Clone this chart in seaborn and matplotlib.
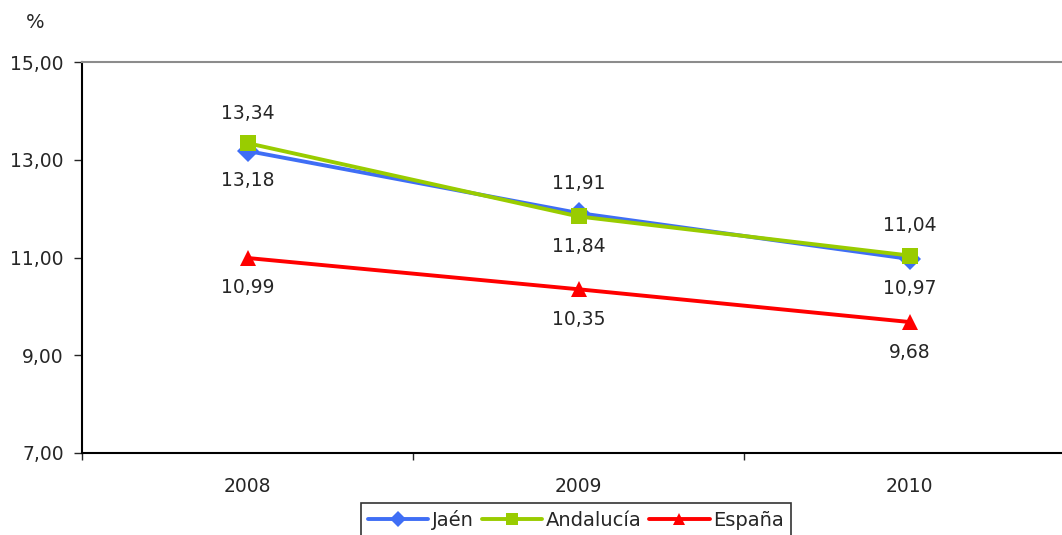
import numpy as np
import pandas as pd
import matplotlib
matplotlib.use('Agg')
import matplotlib.pyplot as plt
import seaborn as sns

years = ['2008', '2009', '2010']
jaen = [13.18, 11.91, 10.97]
andalucia = [13.34, 11.84, 11.04]
espana = [10.99, 10.35, 9.68]

series = ['Jaén', 'Andalucía', 'España']
colors = {'Jaén': '#3F6EF5', 'Andalucía': '#99CC00', 'España': '#FF0000'}
markers = {'Jaén': 'D', 'Andalucía': 's', 'España': '^'}
# label position: +1 above, -1 below
label_side = {'Jaén': [-1, 1, -1], 'Andalucía': [1, -1, 1], 'España': [-1, -1, -1]}

df = pd.concat([
    pd.DataFrame({'x': range(3), 'valor': jaen, 'serie': 'Jaén'}),
    pd.DataFrame({'x': range(3), 'valor': andalucia, 'serie': 'Andalucía'}),
    pd.DataFrame({'x': range(3), 'valor': espana, 'serie': 'España'}),
], ignore_index=True)

sns.set_style('white')
plt.rcParams['font.family'] = ['DejaVu Sans']

fig = plt.figure(figsize=(10.62, 5.35), dpi=100)
ax = fig.add_axes([82 / 1062, 82 / 535, 993 / 1062, 391 / 535])

sns.lineplot(data=df, x='x', y='valor', hue='serie', style='serie',
             hue_order=series, style_order=series, palette=colors,
             markers=markers, dashes=False, linewidth=2.8, markersize=11,
             markeredgewidth=0, ax=ax)

for s in series:
    vals = df[df['serie'] == s]['valor'].values
    for i, v in enumerate(vals):
        side = label_side[s][i]
        ax.annotate(f'{v:.2f}'.replace('.', ','), (i, v), xytext=(0, 30 * side),
                    textcoords='offset pixels',
                    ha='center', va='center', fontsize=13.5)

ax.set_xlim(-0.5, 2.5)
ax.set_ylim(7, 15)
ax.set_yticks([7, 9, 11, 13, 15])
ax.set_yticklabels(['7,00', '9,00', '11,00', '13,00', '15,00'], fontsize=13.5)
ax.set_xticks([0, 1, 2])
ax.set_xticklabels(years, fontsize=13.5)
ax.set_xticks([-0.5, 0.5, 1.5, 2.5], minor=True)
ax.tick_params(axis='x', which='major', length=0, pad=17)
ax.tick_params(axis='x', which='minor', length=5, width=1, direction='out', bottom=True)
ax.tick_params(axis='y', length=6, width=1, direction='out', left=True, pad=7)
ax.set_xlabel('')
ax.set_ylabel('')

for side in ['left', 'bottom']:
    ax.spines[side].set_color('black')
    ax.spines[side].set_linewidth(1.5)
ax.spines['right'].set_visible(False)
ax.spines['top'].set_color('#8c8c8c')
ax.spines['top'].set_linewidth(1.5)

fig.text(35 / 1062, 1 - 22 / 535, '%', ha='center', va='center', fontsize=14)

handles, labels = ax.get_legend_handles_labels()
ax.get_legend().remove()
for h in handles:
    h.set_markersize(8)
leg = fig.legend(handles, labels, loc='upper center', ncol=3,
                 bbox_to_anchor=(576 / 1062, 1 - 503 / 535), fontsize=14,
                 frameon=True, fancybox=False, edgecolor='black',
                 handlelength=3.1, handletextpad=0.2, columnspacing=0.4,
                 borderpad=0.35, borderaxespad=0)
leg.get_frame().set_linewidth(1.2)

fig.savefig('out.png', dpi=100)
